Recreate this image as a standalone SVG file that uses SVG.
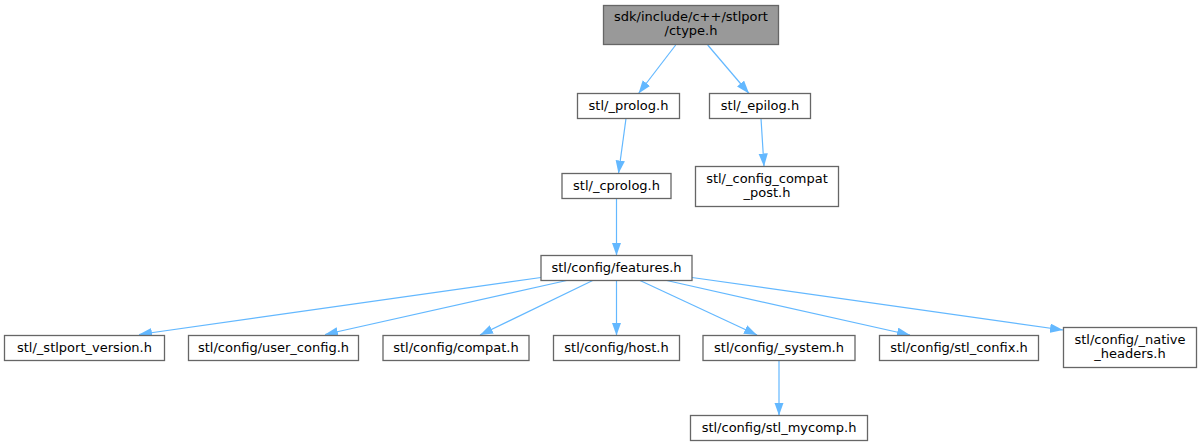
<svg xmlns="http://www.w3.org/2000/svg" width="1202" height="447" viewBox="0 0 1202 447">
<defs>
<style>
.node rect{fill:#ffffff;stroke:#666666;stroke-width:1.3}
.node.main rect{fill:#999999}
.node text{font-family:"DejaVu Sans",sans-serif;font-size:13px;fill:#000000;text-anchor:middle}
.edge{stroke:#63b8ff;stroke-width:1.2;fill:none;marker-end:url(#arrow)}
</style>
<marker id="arrow" markerUnits="userSpaceOnUse" markerWidth="13" markerHeight="10" refX="13" refY="4.65" orient="auto">
<path d="M0,0 L13,4.65 L0,9.3 z" fill="#63b8ff"/>
</marker>
</defs>
<rect width="1202" height="447" fill="#ffffff"/>
<g id="edges">
<line class="edge" x1="675.7" y1="45" x2="638.5" y2="93.5"/>
<line class="edge" x1="707.7" y1="45" x2="749" y2="93.5"/>
<line class="edge" x1="626" y1="118.5" x2="618.5" y2="173.5"/>
<line class="edge" x1="761" y1="118.5" x2="764" y2="166.5"/>
<line class="edge" x1="616.5" y1="198.5" x2="616.5" y2="255.5"/>
<line class="edge" x1="541" y1="277.5" x2="139" y2="334.5"/>
<line class="edge" x1="566.7" y1="280.5" x2="325" y2="334.5"/>
<line class="edge" x1="592.7" y1="280.5" x2="480" y2="335"/>
<line class="edge" x1="616.5" y1="280.5" x2="616.5" y2="335.5"/>
<line class="edge" x1="640" y1="280.5" x2="757" y2="335"/>
<line class="edge" x1="666.7" y1="280.5" x2="910" y2="335"/>
<line class="edge" x1="692" y1="277.5" x2="1063" y2="330"/>
<line class="edge" x1="779" y1="360.5" x2="779" y2="415.5"/>
</g>
<g id="node-ctype" class="node main">
<rect x="603.5" y="5.5" width="175" height="39"/>
<text x="691" y="21">sdk/include/c++/stlport</text>
<text x="691" y="35">/ctype.h</text>
</g>
<g id="node-prolog" class="node">
<rect x="577.5" y="93.5" width="102" height="25"/>
<text x="628.5" y="110">stl/_prolog.h</text>
</g>
<g id="node-epilog" class="node">
<rect x="709.5" y="93.5" width="101" height="25"/>
<text x="760" y="110">stl/_epilog.h</text>
</g>
<g id="node-cprolog" class="node">
<rect x="562" y="173.5" width="109" height="25"/>
<text x="616.5" y="190">stl/_cprolog.h</text>
</g>
<g id="node-compat-post" class="node">
<rect x="695.5" y="166.5" width="143" height="40"/>
<text x="767" y="183">stl/_config_compat</text>
<text x="767" y="197">_post.h</text>
</g>
<g id="node-features" class="node">
<rect x="541" y="255.5" width="151" height="25"/>
<text x="616.5" y="272">stl/config/features.h</text>
</g>
<g id="node-stlport-version" class="node">
<rect x="4.5" y="335.5" width="160" height="25"/>
<text x="84.5" y="352">stl/_stlport_version.h</text>
</g>
<g id="node-user-config" class="node">
<rect x="188.5" y="335.5" width="170" height="25"/>
<text x="273.5" y="352">stl/config/user_config.h</text>
</g>
<g id="node-compat" class="node">
<rect x="383" y="335.5" width="146" height="25"/>
<text x="456" y="352">stl/config/compat.h</text>
</g>
<g id="node-host" class="node">
<rect x="553.5" y="335.5" width="126" height="25"/>
<text x="616.5" y="352">stl/config/host.h</text>
</g>
<g id="node-system" class="node">
<rect x="703" y="335.5" width="152" height="25"/>
<text x="779" y="352">stl/config/_system.h</text>
</g>
<g id="node-confix" class="node">
<rect x="879.5" y="335.5" width="159" height="25"/>
<text x="959" y="352">stl/config/stl_confix.h</text>
</g>
<g id="node-native" class="node">
<rect x="1063.5" y="327.5" width="133" height="40"/>
<text x="1130" y="344">stl/config/_native</text>
<text x="1130" y="358">_headers.h</text>
</g>
<g id="node-mycomp" class="node">
<rect x="690.5" y="415.5" width="177" height="25"/>
<text x="779" y="432">stl/config/stl_mycomp.h</text>
</g>
</svg>
